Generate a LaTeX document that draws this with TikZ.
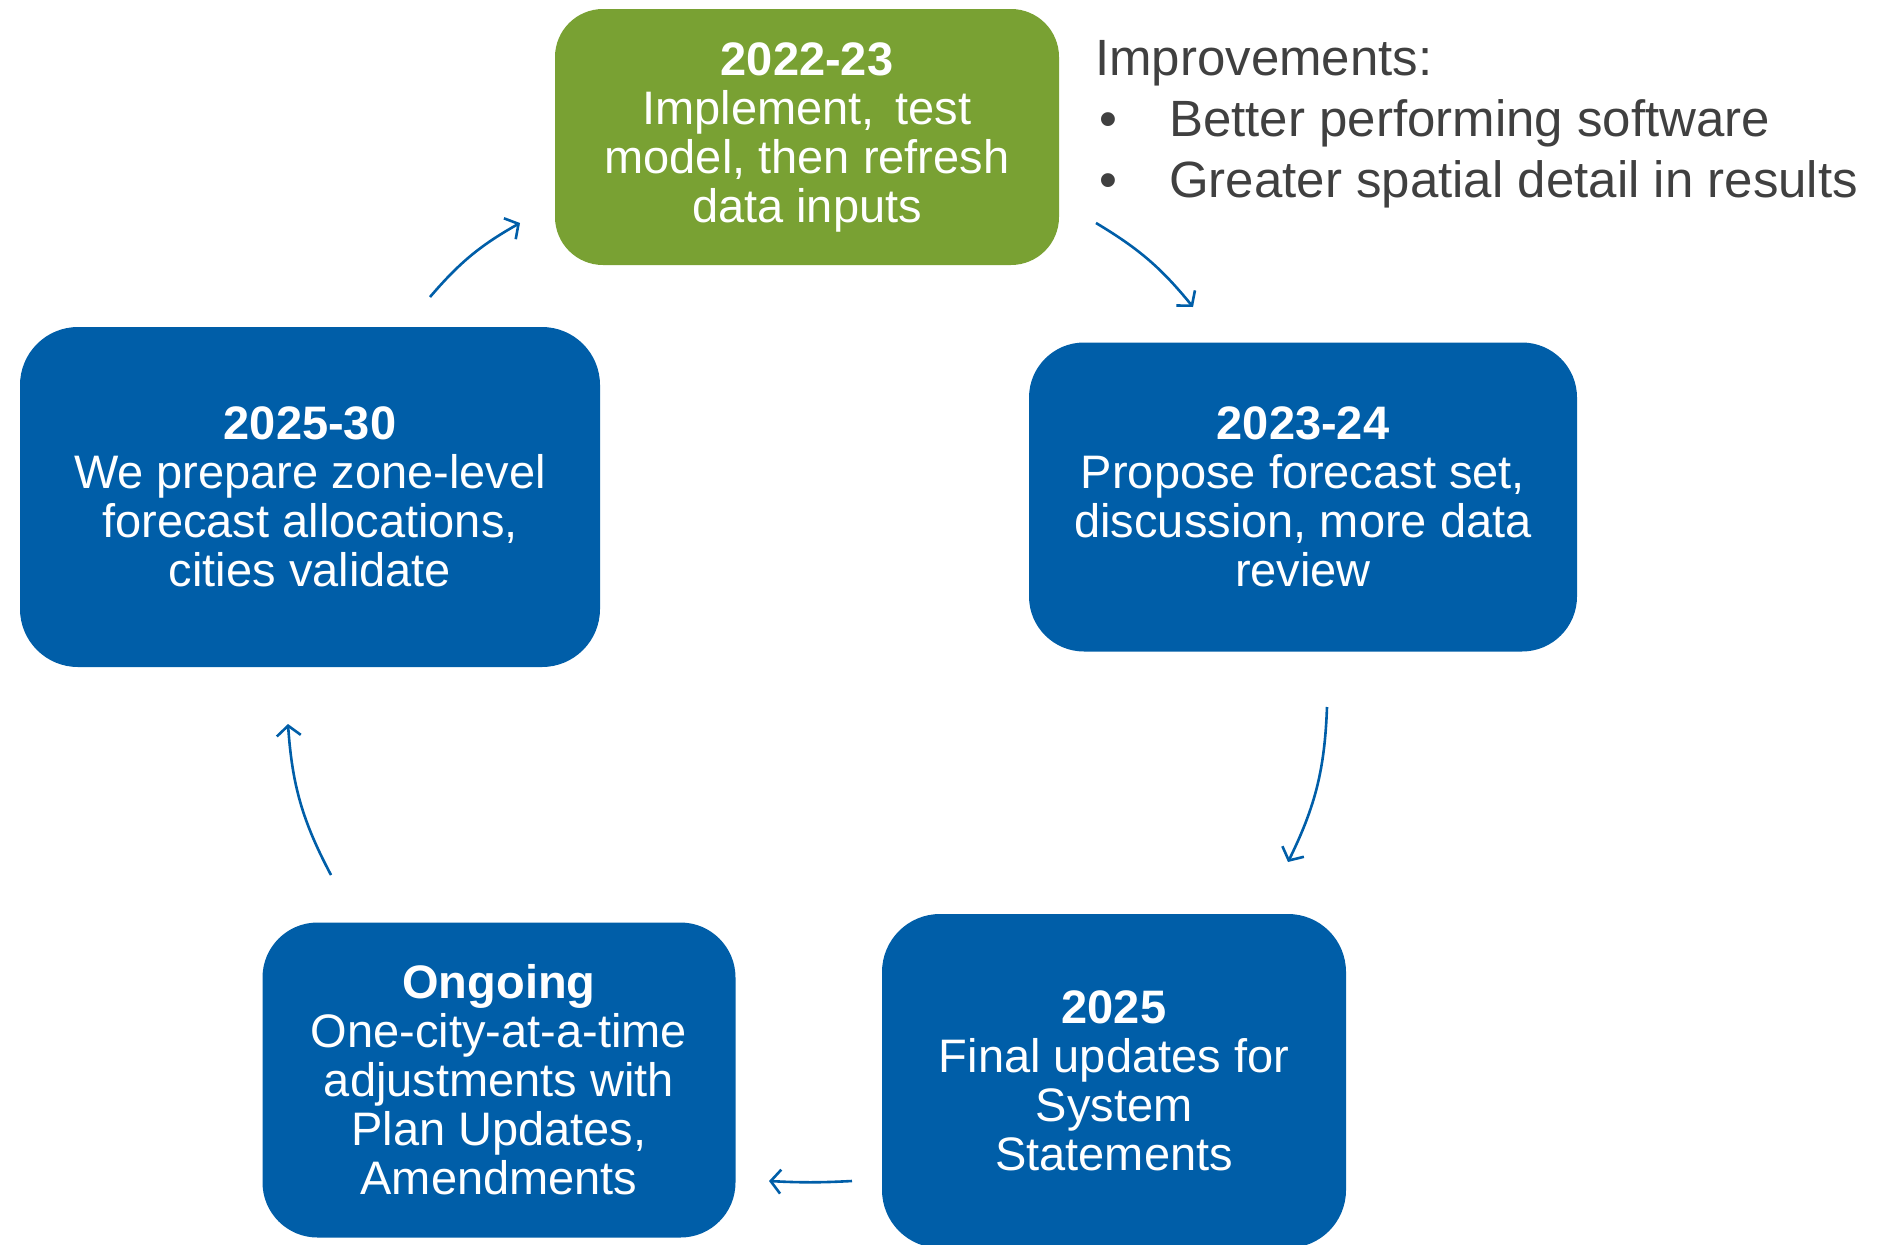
\documentclass[tikz,border=0pt]{standalone}
\usepackage{fontspec}
\setmainfont{Liberation Sans}
\usetikzlibrary{arrows.meta}
\definecolor{boxblue}{RGB}{0,94,168}
\definecolor{boxgreen}{RGB}{121,161,51}
\definecolor{txtgray}{RGB}{64,64,64}
\tikzset{
  stage/.style={draw=none, fill=boxblue, text=white, rounded corners=52pt, align=center,
    inner sep=0pt, font=\fontsize{47}{49}\selectfont},
  cyc/.style={draw=boxblue, line width=2.6pt, -{Straight Barb[length=10pt,width=24pt,line width=2.6pt]}}
}
\begin{document}
\begin{tikzpicture}[x=1pt,y=-1pt]
\useasboundingbox (0,0) rectangle (1893,1245);
% boxes
\node[stage, fill=boxgreen, minimum width=504pt, minimum height=256pt, rounded corners=48pt] (g) at (807,137)
  {\textbf{2022-23}\\Implement,\, test\\model, then refresh\\data inputs};
\node[stage, minimum width=548pt, minimum height=309pt, rounded corners=55pt] (b1) at (1303,497)
  {\textbf{2023-24}\\Propose forecast set,\\discussion, more data\\review};
\node[stage, minimum width=464pt, minimum height=334pt, rounded corners=58pt] (b2) at (1114,1081)
  {\textbf{2025}\\Final updates for\\System\\Statements};
\node[stage, minimum width=473pt, minimum height=315pt, rounded corners=55pt] (b3) at (499,1080)
  {\textbf{Ongoing}\\One-city-at-a-time\\adjustments with\\Plan Updates,\\Amendments};
\node[stage, minimum width=580pt, minimum height=340pt, rounded corners=58pt] (b4) at (310,497)
  {\textbf{2025-30}\\We prepare zone-level\\forecast allocations,\\cities validate};
% improvements text
\node[anchor=north west, inner sep=0pt, align=left, text=txtgray,
  font=\fontsize{51}{61}\selectfont] (imp) at (1095,40)
  {Improvements:\\
   \hspace*{4pt}\makebox[70pt][l]{•}Better performing software\\
   \hspace*{4pt}\makebox[70pt][l]{•}Greater spatial detail in results};
% arrow end points
\coordinate (a1s) at (430,297); \coordinate (a1e) at (520,223);
\coordinate (a2s) at (1096,223); \coordinate (a2e) at (1193,307);
\coordinate (a3s) at (1327,707); \coordinate (a3e) at (1288,862);
\coordinate (a4s) at (852,1181); \coordinate (a4e) at (769,1181);
\coordinate (a5s) at (331,875); \coordinate (a5e) at (288,724);
\draw[cyc] (a1s) to[bend left=10] (a1e);
\draw[cyc] (a2s) to[bend left=10] (a2e);
\draw[cyc] (a3s) to[bend left=12] (a3e);
\draw[cyc] (a4s) to[bend left=3] (a4e);
\draw[cyc] (a5s) to[bend left=12] (a5e);
\end{tikzpicture}
\end{document}
